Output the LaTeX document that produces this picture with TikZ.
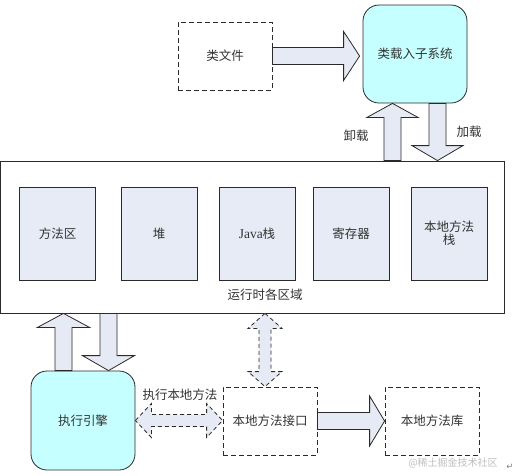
\documentclass[tikz,border=0pt]{standalone}
\usepackage{fontspec}
\setmainfont{Noto Sans CJK SC}
\newfontfamily\latinserif{Liberation Serif}
\newfontfamily\symfont{DejaVu Sans}
\usetikzlibrary{calc}
\definecolor{cyanfill}{HTML}{C6FFFF}
\definecolor{boxfill}{HTML}{E6EBF5}
\definecolor{arrowfill}{HTML}{E6EAF4}
\definecolor{txt}{HTML}{333333}
\definecolor{edge}{HTML}{2A2A2A}
\tikzset{
  base/.style={draw=edge, line width=0.8pt, inner sep=0pt, text=txt, font=\fontsize{12.5}{15}\selectfont, align=center},
  dashbox/.style={base, dash pattern=on 5pt off 3pt, minimum width=94pt, minimum height=68pt},
  roundbox/.style={base, fill=cyanfill, rounded corners=16pt, minimum width=104pt, minimum height=98pt},
  areabox/.style={base, fill=boxfill, minimum width=76pt, minimum height=93pt},
  outerbox/.style={base, minimum width=504pt, minimum height=152pt},
  lbl/.style={text=txt, inner sep=0pt, font=\fontsize{12.5}{15}\selectfont},
  blockarrow/.style={draw=edge, line width=0.8pt, fill=arrowfill, line join=miter},
  dasharrow/.style={blockarrow, dash pattern=on 4pt off 3pt},
}
% right block arrow: from, to, half shaft, half head, head length
\newcommand\ArrowR[5]{\draw[blockarrow] let \p1=(#1),\p2=(#2) in
  (\x1,\y1+#3pt) -- (\x2-#5pt,\y1+#3pt) -- (\x2-#5pt,\y1+#4pt) -- (\x2,\y1) --
  (\x2-#5pt,\y1-#4pt) -- (\x2-#5pt,\y1-#3pt) -- (\x1,\y1-#3pt) -- cycle;}
\newcommand\ArrowU[5]{\draw[blockarrow] let \p1=(#1),\p2=(#2) in
  (\x1-#3pt,\y1) -- (\x1-#3pt,\y2-#5pt) -- (\x1-#4pt,\y2-#5pt) -- (\x1,\y2) --
  (\x1+#4pt,\y2-#5pt) -- (\x1+#3pt,\y2-#5pt) -- (\x1+#3pt,\y1) -- cycle;}
\newcommand\ArrowD[5]{\draw[blockarrow] let \p1=(#1),\p2=(#2) in
  (\x1-#3pt,\y1) -- (\x1-#3pt,\y2+#5pt) -- (\x1-#4pt,\y2+#5pt) -- (\x1,\y2) --
  (\x1+#4pt,\y2+#5pt) -- (\x1+#3pt,\y2+#5pt) -- (\x1+#3pt,\y1) -- cycle;}
\newcommand\ArrowLR[5]{\draw[dasharrow] let \p1=(#1),\p2=(#2) in
  (\x1,\y1) -- (\x1+#5pt,\y1+#4pt) -- (\x1+#5pt,\y1+#3pt) -- (\x2-#5pt,\y1+#3pt) --
  (\x2-#5pt,\y1+#4pt) -- (\x2,\y1) -- (\x2-#5pt,\y1-#4pt) -- (\x2-#5pt,\y1-#3pt) --
  (\x1+#5pt,\y1-#3pt) -- (\x1+#5pt,\y1-#4pt) -- cycle;}
\newcommand\ArrowUD[5]{\draw[dasharrow] let \p1=(#1),\p2=(#2) in
  (\x1,\y1) -- (\x1+#4pt,\y1-#5pt) -- (\x1+#3pt,\y1-#5pt) -- (\x1+#3pt,\y2+#5pt) --
  (\x1+#4pt,\y2+#5pt) -- (\x1,\y2) -- (\x1-#4pt,\y2+#5pt) -- (\x1-#3pt,\y2+#5pt) --
  (\x1-#3pt,\y1-#5pt) -- (\x1-#4pt,\y1-#5pt) -- cycle;}
\begin{document}
\begin{tikzpicture}[x=1pt,y=-1pt]
\useasboundingbox[fill=white] (0,0) rectangle (515,475);
% nodes
\node[dashbox] (cf) at (225,56) {类文件};
\node[roundbox] (cl) at (415,54) {类载入子系统};
\node[outerbox] (rt) at (252.75,237) {};
\node[areabox] (a1) at (57.5,233.5) {方法区};
\node[areabox] (a2) at (159,233.5) {堆};
\node[areabox] (a3) at (257,233.5) {{\latinserif\fontsize{13.5}{15}\selectfont Java}栈};
\node[areabox] (a4) at (351,233.5) {寄存器};
\node[areabox] (a5) at (449,233.5) {本地方法\\[-2pt]栈};
\node[lbl] (rtl) at (265,295) {运行时各区域};
\node[roundbox, minimum height=99pt] (ex) at (83,420.5) {执行引擎};
\node[dashbox] (ni) at (270,421) {本地方法接口};
\node[dashbox] (nl) at (432,421) {本地方法库};
% labels
\node[lbl] (xz) at (356,136) {卸载};
\node[lbl] (jz) at (469,132) {加载};
\node[lbl] (zx) at (180,395) {执行本地方法};
\node[text=black!25, inner sep=0pt, font=\fontsize{10}{12}\selectfont] (wm) at (453,463) {@稀土掘金技术社区};
\node[text=black!50, inner sep=0pt, font=\symfont\fontsize{8.5}{9}\selectfont] (pm) at (510,467) {↵};
% helper coordinates
\coordinate (u1) at ($(cl.south)+(-22.5,0)$);
\coordinate (d1) at ($(cl.south)+(22.5,0)$);
\coordinate (e1) at ($(ex.north)+(-19.5,0)$);
\coordinate (e2) at ($(ex.north)+(25.5,0)$);
\coordinate (v1) at ($(ni.north)+(-5,0)$);
\coordinate (clin) at ($(cl.west)+(-3,0)$);
% connectors
\ArrowR{cf.east}{clin}{8.5}{24.5}{16}
\ArrowU{u1 |- rt.north}{cl.south}{8.5}{25.5}{14}
\ArrowD{d1}{rt.north}{8.5}{25.5}{15}
\ArrowU{e1}{rt.south}{8.5}{26}{14}
\ArrowD{e2 |- rt.south}{ex.north}{8.5}{26}{15}
\ArrowLR{ex.east}{ni.west}{6}{17}{16}
\ArrowUD{v1 |- rt.south}{v1}{6}{17}{15}
\ArrowR{ni.east}{nl.west}{8.5}{25}{15}
\end{tikzpicture}
\end{document}
